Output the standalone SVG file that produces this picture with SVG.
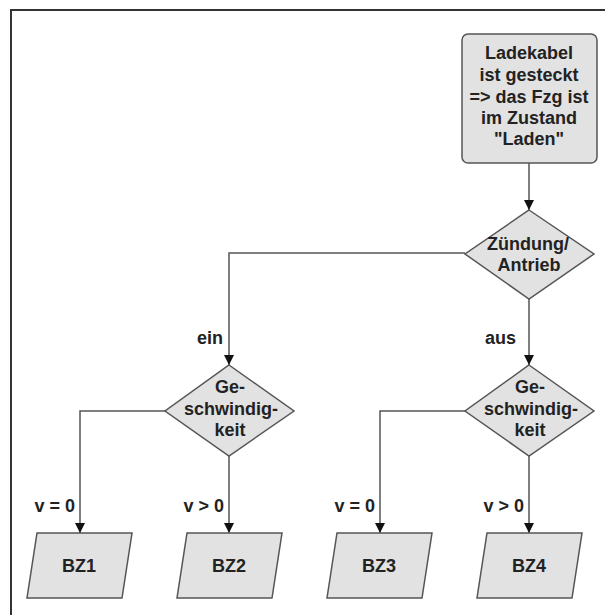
<svg xmlns="http://www.w3.org/2000/svg" width="605" height="615" viewBox="0 0 605 615">
  <style>
    .node { fill: #e2e2e2; stroke: #555; stroke-width: 1.5; }
    .conn { fill: none; stroke: #555; stroke-width: 1.5; marker-end: url(#arrow); }
    .t { font-family: "Liberation Sans", Arial, sans-serif; font-weight: bold; font-size: 18px; fill: #222; text-anchor: middle; }
    .lbl { font-family: "Liberation Sans", Arial, sans-serif; font-weight: bold; font-size: 18px; fill: #222; text-anchor: end; }
  </style>
  <defs>
    <marker id="arrow" markerUnits="userSpaceOnUse" markerWidth="10" markerHeight="12" viewBox="0 0 10 12" refX="10" refY="6" orient="auto">
      <path d="M0,1 L10,6 L0,11 Z" fill="#111"/>
    </marker>
  </defs>
  <rect x="0" y="0" width="605" height="615" fill="#ffffff"/>
  <path d="M11,615 L11,10 L605,10" fill="none" stroke="#333" stroke-width="2"/>

  <g id="connectors">
    <path class="conn" d="M529,163 L529,210"/>
    <path class="conn" d="M465,253 L229,253 L229,365"/>
    <path class="conn" d="M529,299 L529,365"/>
    <path class="conn" d="M165,411 L80,411 L80,533"/>
    <path class="conn" d="M229,456 L229,533"/>
    <path class="conn" d="M465,411 L380,411 L380,533"/>
    <path class="conn" d="M529,456 L529,533"/>
    <text class="lbl" x="223" y="344">ein</text>
    <text class="lbl" x="516" y="344">aus</text>
    <text class="lbl" x="75" y="512">v = 0</text>
    <text class="lbl" x="224" y="512">v &gt; 0</text>
    <text class="lbl" x="375" y="512">v = 0</text>
    <text class="lbl" x="524" y="512">v &gt; 0</text>
  </g>

  <g id="start">
    <rect class="node" x="462" y="34" width="135" height="129" rx="6" ry="6"/>
    <text class="t" x="529" y="59">Ladekabel</text>
    <text class="t" x="529" y="81">ist gesteckt</text>
    <text class="t" x="529" y="103">=&gt; das Fzg ist</text>
    <text class="t" x="529" y="124">im Zustand</text>
    <text class="t" x="529" y="145">"Laden"</text>
  </g>

  <g id="zuendung">
    <polygon class="node" points="529,210 594,254 529,299 465,254"/>
    <text class="t" x="528" y="250">Zündung/</text>
    <text class="t" x="529" y="271">Antrieb</text>
  </g>

  <g id="geschw-ein">
    <polygon class="node" points="229,365 294,411 229,456 165,411"/>
    <text class="t" x="230" y="393">Ge-</text>
    <text class="t" x="231" y="415">schwindig-</text>
    <text class="t" x="230" y="436">keit</text>
  </g>

  <g id="geschw-aus">
    <polygon class="node" points="529,365 594,411 529,456 465,411"/>
    <text class="t" x="530" y="393">Ge-</text>
    <text class="t" x="531" y="415">schwindig-</text>
    <text class="t" x="530" y="436">keit</text>
  </g>

  <g id="bz1">
    <polygon class="node" points="37,533 132,533 122,598 27,598"/>
    <text class="t" x="79" y="572">BZ1</text>
  </g>
  <g id="bz2">
    <polygon class="node" points="187,533 282,533 272,598 177,598"/>
    <text class="t" x="229" y="572">BZ2</text>
  </g>
  <g id="bz3">
    <polygon class="node" points="337,533 432,533 422,598 327,598"/>
    <text class="t" x="379" y="572">BZ3</text>
  </g>
  <g id="bz4">
    <polygon class="node" points="487,533 582,533 572,598 477,598"/>
    <text class="t" x="529" y="572">BZ4</text>
  </g>
</svg>
